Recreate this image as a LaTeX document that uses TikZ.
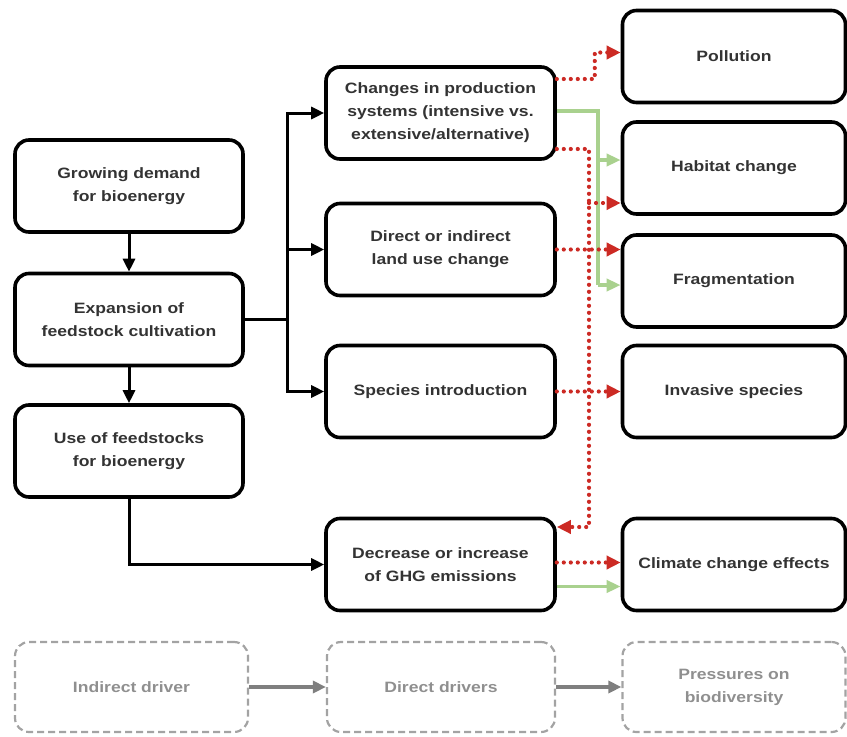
\documentclass[tikz,border=0pt]{standalone}
\usepackage{fontspec}
\setmainfont{Liberation Sans}[FakeStretch=1.17]
\usetikzlibrary{arrows.meta,calc}
\definecolor{txt}{HTML}{333333}
\definecolor{redline}{HTML}{CC2A24}
\definecolor{greenline}{HTML}{A9D18E}
\definecolor{legline}{HTML}{A3A3A3}
\definecolor{legtxt}{HTML}{8F8F8F}
\definecolor{legarrow}{HTML}{7F7F7F}

\begin{document}
\begin{tikzpicture}[x=1pt,y=-1pt,
    box/.style={draw,line width=3.6pt,rounded corners=14pt,minimum height=92pt,
      align=center,text=txt,font=\fontsize{15}{23}\selectfont\bfseries},
    legbox/.style={draw=legline,line width=2.2pt,dash pattern=on 7pt off 4pt,
      rounded corners=14pt,minimum height=90pt,align=center,text=legtxt,
      font=\fontsize{15}{23}\selectfont\bfseries},
    blk/.style={line width=3pt,-{Triangle[length=13pt,width=12pt]}},
    blkline/.style={line width=3pt},
    reddot/.style={redline,line width=4.2pt,dash pattern=on 0pt off 7pt,line cap=round},
    redarrow/.style={reddot,-{Triangle[length=14pt,width=13pt]}},
    grnline/.style={greenline,line width=3.5pt},
    grnarrow/.style={grnline,-{Triangle[length=14pt,width=12pt]}},
    legarr/.style={legarrow,line width=4.5pt,-{Triangle[length=13pt,width=12pt]}}]
    \useasboundingbox (0,0) rectangle (847,737);

    % indirect drivers
    \node[box,minimum width=228pt] (demand) at (129,186) {Growing demand\\for bioenergy};
    \node[box,minimum width=228pt] (expand) at (129,319.5) {Expansion of\\feedstock cultivation};
    \node[box,minimum width=228pt] (use) at (129,451) {Use of feedstocks\\for bioenergy};

    % direct drivers
    \node[box,minimum width=229pt] (changes) at (440.5,113) {Changes in production\\systems (intensive vs.\\extensive/alternative)};
    \node[box,minimum width=229pt] (direct) at (440.5,249.5) {Direct or indirect\\land use change};
    \node[box,minimum width=229pt] (species) at (440.5,391.5) {Species introduction};
    \node[box,minimum width=229pt] (decrease) at (440.5,564.5) {Decrease or increase\\of GHG emissions};

    % pressures
    \node[box,minimum width=223pt] (pollution) at (734,56.5) {Pollution};
    \node[box,minimum width=223pt] (habitat) at (734,168) {Habitat change};
    \node[box,minimum width=223pt] (frag) at (734,281) {Fragmentation};
    \node[box,minimum width=223pt] (invasive) at (734,391.5) {Invasive species};
    \node[box,minimum width=223pt] (climate) at (734,564.5) {Climate change effects};

    % legend
    \node[legbox,minimum width=233pt] (legind) at (131.5,687) {Indirect driver};
    \node[legbox,minimum width=228pt] (legdir) at (441,687) {Direct drivers};
    \node[legbox,minimum width=223pt] (legpress) at (734,687) {Pressures on\\biodiversity};
    \draw[legarr] (legind) -- (legdir);
    \draw[legarr] (legdir) -- (legpress);

    % black connectors
    \coordinate (j) at (287,319.5);
    \draw[blk] (demand) -- (expand);
    \draw[blk] (expand) -- (use);
    \draw[blkline] (expand) -- (j);
    \draw[blk] (j) |- (changes.west);
    \draw[blk] (j) |- (direct.west);
    \draw[blk] (j) |- (species.west);
    \draw[blk] (use) |- (decrease.west);

    % green connectors
    \coordinate (gtop) at (598,111);
    \coordinate (gbot) at (598,285);
    \coordinate (habg) at ([yshift=8pt]habitat.west);
    \draw[grnline] ([yshift=2pt]changes.east) -- (gtop) -- (gbot);
    \draw[grnarrow] (gbot) -- (gbot -| frag.west);
    \draw[grnarrow] (gtop |- habg) -- (habg);
    \draw[grnarrow] ([yshift=-22pt]decrease.east) -- ([yshift=-22pt]climate.west);

    % red connectors
    \coordinate (rtop) at (589,149);
    \coordinate (rbot) at (589,527);
    \coordinate (habr) at ([yshift=-35pt]habitat.west);
    \draw[redarrow] ([yshift=34pt]changes.east) -- ++(38,0) |- ([yshift=4pt]pollution.west);
    \draw[redarrow] ([yshift=-36pt]changes.east) -- (rtop) -- (rbot) -- (rbot -| decrease.east);
    \draw[redarrow] (rtop |- habr) -- (habr);
    \draw[redarrow] (direct.east) -- (direct.east -| frag.west);
    \draw[redarrow] (species) -- (invasive);
    \draw[redarrow] ([yshift=2pt]decrease.east) -- ([yshift=2pt]climate.west);
\end{tikzpicture}
\end{document}
